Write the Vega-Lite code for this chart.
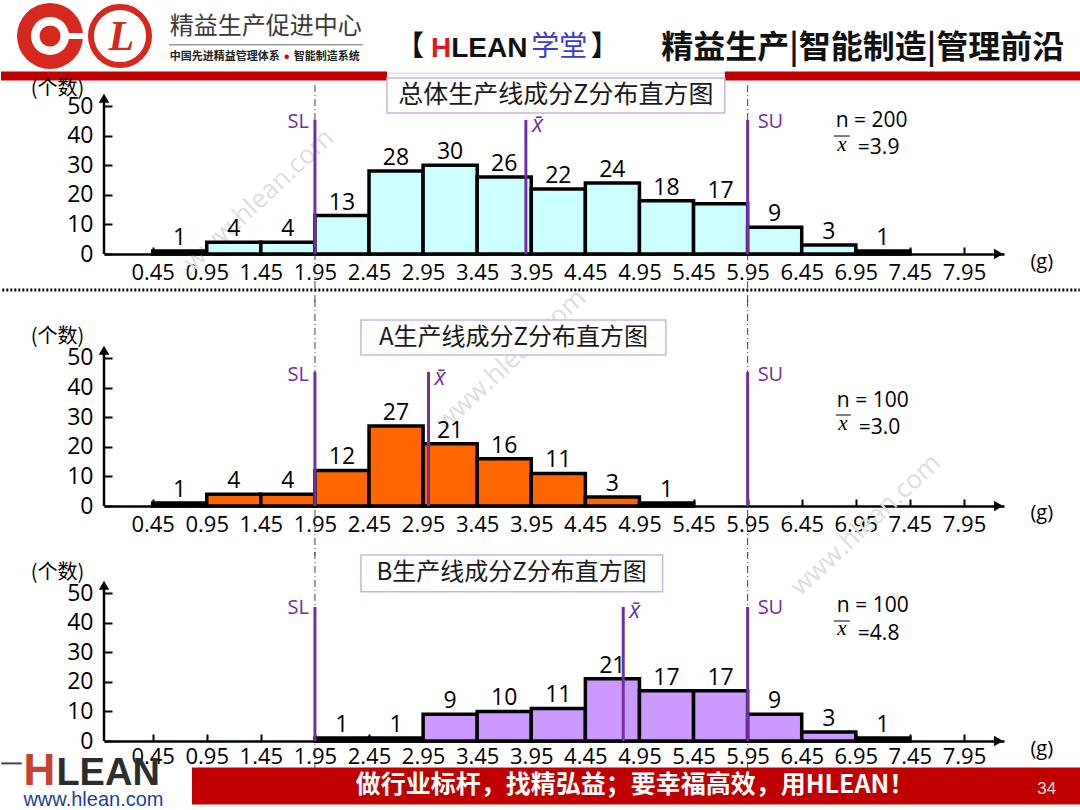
{
"$schema": "https://vega.github.io/schema/vega-lite/v6.json",
"background": "white",
"padding": 0,
"bounds": "flush",
"spacing": 50,
"config": {"view": {"stroke": null}, "font": "Open Sans", "axis": {"grid": false}, "text": {"font": "Open Sans"}},
"datasets": {
 "deco": [{"item": "decoration"}],
 "total": [{"lo":0.45,"hi":0.95,"n":1},{"lo":0.95,"hi":1.45,"n":4},{"lo":1.45,"hi":1.95,"n":4},{"lo":1.95,"hi":2.45,"n":13},{"lo":2.45,"hi":2.95,"n":28},{"lo":2.95,"hi":3.45,"n":30},{"lo":3.45,"hi":3.95,"n":26},{"lo":3.95,"hi":4.45,"n":22},{"lo":4.45,"hi":4.95,"n":24},{"lo":4.95,"hi":5.45,"n":18},{"lo":5.45,"hi":5.95,"n":17},{"lo":5.95,"hi":6.45,"n":9},{"lo":6.45,"hi":6.95,"n":3},{"lo":6.95,"hi":7.45,"n":1}],
 "lineA": [{"lo":0.45,"hi":0.95,"n":1},{"lo":0.95,"hi":1.45,"n":4},{"lo":1.45,"hi":1.95,"n":4},{"lo":1.95,"hi":2.45,"n":12},{"lo":2.45,"hi":2.95,"n":27},{"lo":2.95,"hi":3.45,"n":21},{"lo":3.45,"hi":3.95,"n":16},{"lo":3.95,"hi":4.45,"n":11},{"lo":4.45,"hi":4.95,"n":3},{"lo":4.95,"hi":5.45,"n":1}],
 "lineB": [{"lo":1.95,"hi":2.45,"n":1},{"lo":2.45,"hi":2.95,"n":1},{"lo":2.95,"hi":3.45,"n":9},{"lo":3.45,"hi":3.95,"n":10},{"lo":3.95,"hi":4.45,"n":11},{"lo":4.45,"hi":4.95,"n":21},{"lo":4.95,"hi":5.45,"n":17},{"lo":5.45,"hi":5.95,"n":17},{"lo":5.95,"hi":6.45,"n":9},{"lo":6.45,"hi":6.95,"n":3},{"lo":6.95,"hi":7.45,"n":1}],
 "limitsTotal": [{"label":"SL","g":1.95},{"label":"SU","g":5.95},{"label":"x̄","g":3.9}],
 "limitsA": [{"label":"SL","g":1.95},{"label":"SU","g":5.95},{"label":"x̄","g":3.0}],
 "limitsB": [{"label":"SL","g":1.95},{"label":"SU","g":5.95},{"label":"x̄","g":4.8}]
},
"vconcat": [
{
 "width": 900, "height": 182,
 "resolve": {"axis": {"x": "independent", "y": "independent"}},
 "layer": [
  {"data":{"name":"deco"},"mark":{"type":"rect","fill":"white"},"encoding":{"x":{"datum":-0.952,"type":"quantitative","scale":{"domain":[0,8.32],"nice":false,"zero":false},"axis":null},"x2":{"datum":9.03},"y":{"datum":85.81,"type":"quantitative","scale":{"domain":[0,61.49],"nice":false,"zero":false},"axis":null},"y2":{"datum":85.5}}},
  {"data":{"name":"deco"},"mark":{"type":"rect","fill":"#c00000"},"encoding":{"x":{"datum":-0.952,"type":"quantitative","scale":{"domain":[0,8.32],"nice":false,"zero":false},"axis":null},"x2":{"datum":2.616},"y":{"datum":61.66,"type":"quantitative","scale":{"domain":[0,61.49],"nice":false,"zero":false},"axis":null},"y2":{"datum":58.61}}},
  {"data":{"name":"deco"},"mark":{"type":"rect","fill":"#ecd5ec"},"encoding":{"x":{"datum":2.616,"type":"quantitative","scale":{"domain":[0,8.32],"nice":false,"zero":false},"axis":null},"x2":{"datum":5.739},"y":{"datum":61.32,"type":"quantitative","scale":{"domain":[0,61.49],"nice":false,"zero":false},"axis":null},"y2":{"datum":60.81}}},
  {"data":{"name":"deco"},"mark":{"type":"rect","fill":"#c00000"},"encoding":{"x":{"datum":5.739,"type":"quantitative","scale":{"domain":[0,8.32],"nice":false,"zero":false},"axis":null},"x2":{"datum":9.03},"y":{"datum":61.66,"type":"quantitative","scale":{"domain":[0,61.49],"nice":false,"zero":false},"axis":null},"y2":{"datum":58.61}}},
  {"data":{"name":"deco"},"mark":{"type":"point","shape":"circle","filled":true,"color":"#d7281e","opacity":1,"size":4356},"encoding":{"x":{"datum":-0.499,"type":"quantitative","scale":{"domain":[0,8.32],"nice":false,"zero":false},"axis":null},"y":{"datum":73.65,"type":"quantitative","scale":{"domain":[0,61.49],"nice":false,"zero":false},"axis":null}}},
  {"data":{"name":"deco"},"mark":{"type":"point","shape":"circle","filled":true,"color":"white","opacity":1,"size":1444},"encoding":{"x":{"datum":-0.499,"type":"quantitative","scale":{"domain":[0,8.32],"nice":false,"zero":false},"axis":null},"y":{"datum":73.65,"type":"quantitative","scale":{"domain":[0,61.49],"nice":false,"zero":false},"axis":null}}},
  {"data":{"name":"deco"},"mark":{"type":"point","shape":"circle","filled":true,"color":"#d7281e","opacity":1,"size":440},"encoding":{"x":{"datum":-0.499,"type":"quantitative","scale":{"domain":[0,8.32],"nice":false,"zero":false},"axis":null},"y":{"datum":73.65,"type":"quantitative","scale":{"domain":[0,61.49],"nice":false,"zero":false},"axis":null}}},
  {"data":{"name":"deco"},"mark":{"type":"rect","fill":"white"},"encoding":{"x":{"datum":-0.397,"type":"quantitative","scale":{"domain":[0,8.32],"nice":false,"zero":false},"axis":null},"x2":{"datum":-0.17},"y":{"datum":74.66,"type":"quantitative","scale":{"domain":[0,61.49],"nice":false,"zero":false},"axis":null},"y2":{"datum":72.64}}},
  {"data":{"name":"deco"},"mark":{"type":"point","shape":"circle","filled":false,"stroke":"#d7281e","strokeWidth":6,"strokeJoin":"round","opacity":1,"size":3364},"encoding":{"x":{"datum":0.148,"type":"quantitative","scale":{"domain":[0,8.32],"nice":false,"zero":false},"axis":null},"y":{"datum":73.65,"type":"quantitative","scale":{"domain":[0,61.49],"nice":false,"zero":false},"axis":null}}},
  {"data":{"name":"deco"},"mark":{"type":"text","text":"L","font":"Liberation Serif","fontStyle":"italic","fontWeight":"bold","fontSize":42,"color":"#d7281e","align":"center","baseline":"middle"},"encoding":{"x":{"datum":0.16,"type":"quantitative","scale":{"domain":[0,8.32],"nice":false,"zero":false},"axis":null},"y":{"datum":73.3,"type":"quantitative","scale":{"domain":[0,61.49],"nice":false,"zero":false},"axis":null}}},
  {"data":{"name":"deco"},"mark":{"type":"text","text":"精益生产促进中心","font":"Noto Sans CJK SC","fontSize":24,"color":"#3a3a3a","align":"left","baseline":"middle"},"encoding":{"x":{"datum":0.607,"type":"quantitative","scale":{"domain":[0,8.32],"nice":false,"zero":false},"axis":null},"y":{"datum":76.79,"type":"quantitative","scale":{"domain":[0,61.49],"nice":false,"zero":false},"axis":null}}},
  {"data":{"name":"deco"},"mark":{"type":"rule","color":"#9a9a9a","strokeWidth":1.5},"encoding":{"x":{"datum":0.601,"type":"quantitative","scale":{"domain":[0,8.32],"nice":false,"zero":false},"axis":null},"x2":{"datum":2.394},"y":{"datum":70.68,"type":"quantitative","scale":{"domain":[0,61.49],"nice":false,"zero":false},"axis":null}}},
  {"data":{"name":"deco"},"mark":{"type":"text","text":"中国先进精益管理体系","font":"Noto Sans CJK SC","fontSize":11,"fontWeight":"bold","color":"#222","align":"left","baseline":"middle"},"encoding":{"x":{"datum":0.607,"type":"quantitative","scale":{"domain":[0,8.32],"nice":false,"zero":false},"axis":null},"y":{"datum":66.62,"type":"quantitative","scale":{"domain":[0,61.49],"nice":false,"zero":false},"axis":null}}},
  {"data":{"name":"deco"},"mark":{"type":"point","shape":"circle","filled":true,"color":"#e00000","opacity":1,"size":20},"encoding":{"x":{"datum":1.689,"type":"quantitative","scale":{"domain":[0,8.32],"nice":false,"zero":false},"axis":null},"y":{"datum":66.62,"type":"quantitative","scale":{"domain":[0,61.49],"nice":false,"zero":false},"axis":null}}},
  {"data":{"name":"deco"},"mark":{"type":"text","text":"智能制造系统","font":"Noto Sans CJK SC","fontSize":11,"fontWeight":"bold","color":"#222","align":"left","baseline":"middle"},"encoding":{"x":{"datum":1.753,"type":"quantitative","scale":{"domain":[0,8.32],"nice":false,"zero":false},"axis":null},"y":{"datum":66.62,"type":"quantitative","scale":{"domain":[0,61.49],"nice":false,"zero":false},"axis":null}}},
  {"data":{"name":"deco"},"mark":{"type":"text","text":"【","font":"Noto Sans CJK SC","fontSize":28,"fontWeight":"bold","color":"#111","align":"left","baseline":"middle"},"encoding":{"x":{"datum":2.699,"type":"quantitative","scale":{"domain":[0,8.32],"nice":false,"zero":false},"axis":null},"y":{"datum":69.59,"type":"quantitative","scale":{"domain":[0,61.49],"nice":false,"zero":false},"axis":null}}},
  {"data":{"name":"deco"},"mark":{"type":"text","text":"H","font":"Liberation Sans","fontSize":28,"fontWeight":"bold","color":"#e8161b","align":"left","baseline":"alphabetic"},"encoding":{"x":{"datum":3.022,"type":"quantitative","scale":{"domain":[0,8.32],"nice":false,"zero":false},"axis":null},"y":{"datum":66.62,"type":"quantitative","scale":{"domain":[0,61.49],"nice":false,"zero":false},"axis":null}}},
  {"data":{"name":"deco"},"mark":{"type":"text","text":"LEAN","font":"Liberation Sans","fontSize":28,"fontWeight":"bold","color":"#111","align":"left","baseline":"alphabetic"},"encoding":{"x":{"datum":3.21,"type":"quantitative","scale":{"domain":[0,8.32],"nice":false,"zero":false},"axis":null},"y":{"datum":66.62,"type":"quantitative","scale":{"domain":[0,61.49],"nice":false,"zero":false},"axis":null}}},
  {"data":{"name":"deco"},"mark":{"type":"text","text":"学堂","font":"Noto Sans CJK SC","fontSize":28,"color":"#3b3bd4","align":"left","baseline":"middle"},"encoding":{"x":{"datum":3.95,"type":"quantitative","scale":{"domain":[0,8.32],"nice":false,"zero":false},"axis":null},"y":{"datum":69.59,"type":"quantitative","scale":{"domain":[0,61.49],"nice":false,"zero":false},"axis":null}}},
  {"data":{"name":"deco"},"mark":{"type":"text","text":"】","font":"Noto Sans CJK SC","fontSize":28,"fontWeight":"bold","color":"#111","align":"left","baseline":"middle"},"encoding":{"x":{"datum":4.5,"type":"quantitative","scale":{"domain":[0,8.32],"nice":false,"zero":false},"axis":null},"y":{"datum":69.59,"type":"quantitative","scale":{"domain":[0,61.49],"nice":false,"zero":false},"axis":null}}},
  {"data":{"name":"deco"},"mark":{"type":"text","text":"精益生产|智能制造|管理前沿","font":"Noto Sans CJK SC","fontSize":32,"fontWeight":"bold","color":"#111","align":"center","baseline":"middle"},"encoding":{"x":{"datum":7.015,"type":"quantitative","scale":{"domain":[0,8.32],"nice":false,"zero":false},"axis":null},"y":{"datum":69.59,"type":"quantitative","scale":{"domain":[0,61.49],"nice":false,"zero":false},"axis":null}}},
  {"data":{"name":"deco"},"mark":{"type":"rule","color":"#000","strokeWidth":3,"strokeDash":[2,2]},"encoding":{"x":{"datum":-0.94,"type":"quantitative","scale":{"domain":[0,8.32],"nice":false,"zero":false},"axis":null},"x2":{"datum":9.02},"y":{"datum":-12.16,"type":"quantitative","scale":{"domain":[0,61.49],"nice":false,"zero":false},"axis":null}}},
  {"data":{"name":"deco"},"mark":{"type":"text","text":"www.hlean.com","fontSize":26,"color":"#dedede","angle":317,"align":"center","baseline":"middle"},"encoding":{"x":{"datum":1.432,"type":"quantitative","scale":{"domain":[0,8.32],"nice":false,"zero":false},"axis":null},"y":{"datum":18.24,"type":"quantitative","scale":{"domain":[0,61.49],"nice":false,"zero":false},"axis":null}}},
  {"data":{"name":"limitsTotal"},"transform":[{"filter":{"field":"label","oneOf":["SL","SU"]}}],"mark":{"type":"rule","color":"#444","strokeWidth":1,"strokeDash":[7,3,1,3]},"encoding":{"x":{"field":"g","type":"quantitative","scale":{"domain":[0,8.32],"nice":false,"zero":false},"axis":null},"y":{"datum":57.09,"type":"quantitative","scale":{"domain":[0,61.49],"nice":false,"zero":false},"axis":null},"y2":{"datum":-17.23}}},
  {"data":{"name":"deco"},"mark":{"type":"rect","fill":"white","stroke":"#c9b4de","strokeWidth":1.5},"encoding":{"x":{"datum":2.616,"type":"quantitative","scale":{"domain":[0,8.32],"nice":false,"zero":false},"axis":null},"x2":{"datum":5.739},"y":{"datum":59.46,"type":"quantitative","scale":{"domain":[0,61.49],"nice":false,"zero":false},"axis":null},"y2":{"datum":47.64}}},
  {"data":{"name":"deco"},"mark":{"type":"text","text":"总体生产线成分Z分布直方图","font":"Noto Sans CJK SC","fontSize":25,"color":"#1a1a1a","align":"center","baseline":"middle"},"encoding":{"x":{"datum":4.177,"type":"quantitative","scale":{"domain":[0,8.32],"nice":false,"zero":false},"axis":null},"y":{"datum":53.72,"type":"quantitative","scale":{"domain":[0,61.49],"nice":false,"zero":false},"axis":null}}},
  {"data":{"name":"total"},"mark":{"type":"rect","fill":"#ccffff","stroke":"#000","strokeWidth":3.5},"encoding":{
    "x":{"field":"lo","type":"quantitative","scale":{"domain":[0,8.32],"nice":false,"zero":false},"axis":{"values":[0.45,0.95,1.45,1.95,2.45,2.95,3.45,3.95,4.45,4.95,5.45,5.95,6.45,6.95,7.45,7.95],"format":".2f","title":null,"grid":false,"domainColor":"#000","domainWidth":2.5,"tickColor":"#000","tickWidth":2,"tickSize":-7,"labelFontSize":22,"labelColor":"#000","labelPadding":15,"labelFlush":false,"labelOverlap":false,"labelBound":false}},
    "x2":{"field":"hi"},
    "y":{"field":"n","type":"quantitative","scale":{"domain":[0,61.49],"nice":false,"zero":false},"axis":{"values":[0,10,20,30,40,50],"title":null,"grid":false,"domain":false,"tickColor":"#000","tickWidth":2,"tickSize":-8,"labelFontSize":23,"labelColor":"#000","labelPadding":19}},
    "y2":{"datum":0}}},
  {"data":{"name":"total"},"mark":{"type":"text","fontSize":23,"color":"#000","align":"center","baseline":"bottom","dx":27,"dy":-1},"encoding":{"x":{"field":"lo","type":"quantitative","scale":{"domain":[0,8.32],"nice":false,"zero":false},"axis":null},"y":{"field":"n","type":"quantitative","scale":{"domain":[0,61.49],"nice":false,"zero":false},"axis":null},"text":{"field":"n","type":"quantitative"}}},
  {"data":{"name":"limitsTotal"},"mark":{"type":"rule","color":"#7030a0","strokeWidth":3},"encoding":{"x":{"field":"g","type":"quantitative","scale":{"domain":[0,8.32],"nice":false,"zero":false},"axis":null},"y":{"datum":0,"type":"quantitative","scale":{"domain":[0,61.49],"nice":false,"zero":false},"axis":null},"y2":{"datum":45.3}}},
  {"data":{"name":"limitsTotal"},"transform":[{"filter":{"field":"label","equal":"SL"}}],"mark":{"type":"text","fontSize":20,"color":"#7030a0","align":"right","baseline":"middle","dx":-6},"encoding":{"x":{"field":"g","type":"quantitative","scale":{"domain":[0,8.32],"nice":false,"zero":false},"axis":null},"y":{"datum":44.7,"type":"quantitative","scale":{"domain":[0,61.49],"nice":false,"zero":false},"axis":null},"text":{"field":"label"}}},
  {"data":{"name":"limitsTotal"},"transform":[{"filter":{"field":"label","equal":"SU"}}],"mark":{"type":"text","fontSize":20,"color":"#7030a0","align":"left","baseline":"middle","dx":10},"encoding":{"x":{"field":"g","type":"quantitative","scale":{"domain":[0,8.32],"nice":false,"zero":false},"axis":null},"y":{"datum":44.7,"type":"quantitative","scale":{"domain":[0,61.49],"nice":false,"zero":false},"axis":null},"text":{"field":"label"}}},
  {"data":{"name":"limitsTotal"},"transform":[{"filter":{"field":"label","equal":"x̄"}}],"mark":{"type":"text","fontSize":23,"fontStyle":"italic","color":"#7030a0","align":"left","baseline":"middle","dx":6},"encoding":{"x":{"field":"g","type":"quantitative","scale":{"domain":[0,8.32],"nice":false,"zero":false},"axis":null},"y":{"datum":43.7,"type":"quantitative","scale":{"domain":[0,61.49],"nice":false,"zero":false},"axis":null},"text":{"field":"label"}}},
  {"data":{"name":"deco"},"mark":{"type":"text","text":"n = 200","fontSize":21,"color":"#000","align":"left","baseline":"middle"},"encoding":{"x":{"datum":6.765,"type":"quantitative","scale":{"domain":[0,8.32],"nice":false,"zero":false},"axis":null},"y":{"datum":44.93,"type":"quantitative","scale":{"domain":[0,61.49],"nice":false,"zero":false},"axis":null}}},
  {"data":{"name":"deco"},"mark":{"type":"rule","color":"#000","strokeWidth":1},"encoding":{"x":{"datum":6.747,"type":"quantitative","scale":{"domain":[0,8.32],"nice":false,"zero":false},"axis":null},"x2":{"datum":6.895},"y":{"datum":39.86,"type":"quantitative","scale":{"domain":[0,61.49],"nice":false,"zero":false},"axis":null}}},
  {"data":{"name":"deco"},"mark":{"type":"text","text":"x","font":"Liberation Serif","fontStyle":"italic","fontSize":21,"color":"#000","align":"center","baseline":"middle"},"encoding":{"x":{"datum":6.821,"type":"quantitative","scale":{"domain":[0,8.32],"nice":false,"zero":false},"axis":null},"y":{"datum":36.9,"type":"quantitative","scale":{"domain":[0,61.49],"nice":false,"zero":false},"axis":null}}},
  {"data":{"name":"deco"},"mark":{"type":"text","text":"=3.9","fontSize":21,"color":"#000","align":"left","baseline":"middle"},"encoding":{"x":{"datum":6.969,"type":"quantitative","scale":{"domain":[0,8.32],"nice":false,"zero":false},"axis":null},"y":{"datum":35.81,"type":"quantitative","scale":{"domain":[0,61.49],"nice":false,"zero":false},"axis":null}}},
  {"data":{"name":"deco"},"mark":{"type":"rule","color":"#000","strokeWidth":2.5},"encoding":{"x":{"datum":0,"type":"quantitative","scale":{"domain":[0,8.32],"nice":false,"zero":false},"axis":null},"y":{"datum":0,"type":"quantitative","scale":{"domain":[0,61.49],"nice":false,"zero":false},"axis":null},"y2":{"datum":52.5}}},
  {"data":{"name":"deco"},"mark":{"type":"point","shape":"triangle-up","filled":true,"color":"#000","opacity":1,"size":110},"encoding":{"x":{"datum":0,"type":"quantitative","scale":{"domain":[0,8.32],"nice":false,"zero":false},"axis":null},"y":{"datum":52.6,"type":"quantitative","scale":{"domain":[0,61.49],"nice":false,"zero":false},"axis":null}}},
  {"data":{"name":"deco"},"mark":{"type":"point","shape":"triangle-right","filled":true,"color":"#000","opacity":1,"size":110},"encoding":{"x":{"datum":8.27,"type":"quantitative","scale":{"domain":[0,8.32],"nice":false,"zero":false},"axis":null},"y":{"datum":0,"type":"quantitative","scale":{"domain":[0,61.49],"nice":false,"zero":false},"axis":null}}},
  {"data":{"name":"deco"},"mark":{"type":"text","text":"(个数)","font":"Noto Sans CJK SC","fontSize":20,"color":"#000","align":"center","baseline":"middle"},"encoding":{"x":{"datum":-0.43,"type":"quantitative","scale":{"domain":[0,8.32],"nice":false,"zero":false},"axis":null},"y":{"datum":55.91,"type":"quantitative","scale":{"domain":[0,61.49],"nice":false,"zero":false},"axis":null}}},
  {"data":{"name":"deco"},"mark":{"type":"text","text":"(g)","fontSize":20,"color":"#000","align":"center","baseline":"middle"},"encoding":{"x":{"datum":8.669,"type":"quantitative","scale":{"domain":[0,8.32],"nice":false,"zero":false},"axis":null},"y":{"datum":-2.7,"type":"quantitative","scale":{"domain":[0,61.49],"nice":false,"zero":false},"axis":null}}}
 ]
},
{
 "width": 900, "height": 202,
 "resolve": {"axis": {"x": "independent", "y": "independent"}},
 "layer": [
  {"data":{"name":"deco"},"mark":{"type":"text","text":"www.hlean.com","fontSize":26,"color":"#dedede","angle":317,"align":"center","baseline":"middle"},"encoding":{"x":{"datum":3.762,"type":"quantitative","scale":{"domain":[0,8.32],"nice":false,"zero":false},"axis":null},"y":{"datum":49.3,"type":"quantitative","scale":{"domain":[0,68.24],"nice":false,"zero":false},"axis":null}}},
  {"data":{"name":"deco"},"mark":{"type":"text","text":"www.hlean.com","fontSize":26,"color":"#dedede","angle":317,"align":"center","baseline":"middle"},"encoding":{"x":{"datum":7.043,"type":"quantitative","scale":{"domain":[0,8.32],"nice":false,"zero":false},"axis":null},"y":{"datum":-6.4,"type":"quantitative","scale":{"domain":[0,68.24],"nice":false,"zero":false},"axis":null}}},
  {"data":{"name":"limitsA"},"transform":[{"filter":{"field":"label","oneOf":["SL","SU"]}}],"mark":{"type":"rule","color":"#444","strokeWidth":1,"strokeDash":[7,3,1,3]},"encoding":{"x":{"field":"g","type":"quantitative","scale":{"domain":[0,8.32],"nice":false,"zero":false},"axis":null},"y":{"datum":69.59,"type":"quantitative","scale":{"domain":[0,68.24],"nice":false,"zero":false},"axis":null},"y2":{"datum":-16.89}}},
  {"data":{"name":"deco"},"mark":{"type":"rect","fill":"white","stroke":"#c9b4de","strokeWidth":1.5},"encoding":{"x":{"datum":2.375,"type":"quantitative","scale":{"domain":[0,8.32],"nice":false,"zero":false},"axis":null},"x2":{"datum":5.194},"y":{"datum":62.84,"type":"quantitative","scale":{"domain":[0,68.24],"nice":false,"zero":false},"axis":null},"y2":{"datum":51.01}}},
  {"data":{"name":"deco"},"mark":{"type":"text","text":"A生产线成分Z分布直方图","font":"Noto Sans CJK SC","fontSize":24,"color":"#1a1a1a","align":"center","baseline":"middle"},"encoding":{"x":{"datum":3.785,"type":"quantitative","scale":{"domain":[0,8.32],"nice":false,"zero":false},"axis":null},"y":{"datum":56.76,"type":"quantitative","scale":{"domain":[0,68.24],"nice":false,"zero":false},"axis":null}}},
  {"data":{"name":"lineA"},"mark":{"type":"rect","fill":"#ff6600","stroke":"#000","strokeWidth":3.5},"encoding":{
    "x":{"field":"lo","type":"quantitative","scale":{"domain":[0,8.32],"nice":false,"zero":false},"axis":{"values":[0.45,0.95,1.45,1.95,2.45,2.95,3.45,3.95,4.45,4.95,5.45,5.95,6.45,6.95,7.45,7.95],"format":".2f","title":null,"grid":false,"domainColor":"#000","domainWidth":2.5,"tickColor":"#000","tickWidth":2,"tickSize":-7,"labelFontSize":22,"labelColor":"#000","labelPadding":15,"labelFlush":false,"labelOverlap":false,"labelBound":false}},
    "x2":{"field":"hi"},
    "y":{"field":"n","type":"quantitative","scale":{"domain":[0,68.24],"nice":false,"zero":false},"axis":{"values":[0,10,20,30,40,50],"title":null,"grid":false,"domain":false,"tickColor":"#000","tickWidth":2,"tickSize":-8,"labelFontSize":23,"labelColor":"#000","labelPadding":19}},
    "y2":{"datum":0}}},
  {"data":{"name":"lineA"},"mark":{"type":"text","fontSize":23,"color":"#000","align":"center","baseline":"bottom","dx":27,"dy":-1},"encoding":{"x":{"field":"lo","type":"quantitative","scale":{"domain":[0,8.32],"nice":false,"zero":false},"axis":null},"y":{"field":"n","type":"quantitative","scale":{"domain":[0,68.24],"nice":false,"zero":false},"axis":null},"text":{"field":"n","type":"quantitative"}}},
  {"data":{"name":"limitsA"},"mark":{"type":"rule","color":"#7030a0","strokeWidth":3},"encoding":{"x":{"field":"g","type":"quantitative","scale":{"domain":[0,8.32],"nice":false,"zero":false},"axis":null},"y":{"datum":0,"type":"quantitative","scale":{"domain":[0,68.24],"nice":false,"zero":false},"axis":null},"y2":{"datum":45.3}}},
  {"data":{"name":"limitsA"},"transform":[{"filter":{"field":"label","equal":"SL"}}],"mark":{"type":"text","fontSize":20,"color":"#7030a0","align":"right","baseline":"middle","dx":-6},"encoding":{"x":{"field":"g","type":"quantitative","scale":{"domain":[0,8.32],"nice":false,"zero":false},"axis":null},"y":{"datum":44.3,"type":"quantitative","scale":{"domain":[0,68.24],"nice":false,"zero":false},"axis":null},"text":{"field":"label"}}},
  {"data":{"name":"limitsA"},"transform":[{"filter":{"field":"label","equal":"SU"}}],"mark":{"type":"text","fontSize":20,"color":"#7030a0","align":"left","baseline":"middle","dx":10},"encoding":{"x":{"field":"g","type":"quantitative","scale":{"domain":[0,8.32],"nice":false,"zero":false},"axis":null},"y":{"datum":44.3,"type":"quantitative","scale":{"domain":[0,68.24],"nice":false,"zero":false},"axis":null},"text":{"field":"label"}}},
  {"data":{"name":"limitsA"},"transform":[{"filter":{"field":"label","equal":"x̄"}}],"mark":{"type":"text","fontSize":23,"fontStyle":"italic","color":"#7030a0","align":"left","baseline":"middle","dx":6},"encoding":{"x":{"field":"g","type":"quantitative","scale":{"domain":[0,8.32],"nice":false,"zero":false},"axis":null},"y":{"datum":43.3,"type":"quantitative","scale":{"domain":[0,68.24],"nice":false,"zero":false},"axis":null},"text":{"field":"label"}}},
  {"data":{"name":"deco"},"mark":{"type":"text","text":"n = 100","fontSize":21,"color":"#000","align":"left","baseline":"middle"},"encoding":{"x":{"datum":6.775,"type":"quantitative","scale":{"domain":[0,8.32],"nice":false,"zero":false},"axis":null},"y":{"datum":35.6,"type":"quantitative","scale":{"domain":[0,68.24],"nice":false,"zero":false},"axis":null}}},
  {"data":{"name":"deco"},"mark":{"type":"rule","color":"#000","strokeWidth":1},"encoding":{"x":{"datum":6.765,"type":"quantitative","scale":{"domain":[0,8.32],"nice":false,"zero":false},"axis":null},"x2":{"datum":6.904},"y":{"datum":30.74,"type":"quantitative","scale":{"domain":[0,68.24],"nice":false,"zero":false},"axis":null}}},
  {"data":{"name":"deco"},"mark":{"type":"text","text":"x","font":"Liberation Serif","fontStyle":"italic","fontSize":21,"color":"#000","align":"center","baseline":"middle"},"encoding":{"x":{"datum":6.83,"type":"quantitative","scale":{"domain":[0,8.32],"nice":false,"zero":false},"axis":null},"y":{"datum":27.7,"type":"quantitative","scale":{"domain":[0,68.24],"nice":false,"zero":false},"axis":null}}},
  {"data":{"name":"deco"},"mark":{"type":"text","text":"=3.0","fontSize":21,"color":"#000","align":"left","baseline":"middle"},"encoding":{"x":{"datum":6.978,"type":"quantitative","scale":{"domain":[0,8.32],"nice":false,"zero":false},"axis":null},"y":{"datum":26.25,"type":"quantitative","scale":{"domain":[0,68.24],"nice":false,"zero":false},"axis":null}}},
  {"data":{"name":"deco"},"mark":{"type":"rule","color":"#000","strokeWidth":2.5},"encoding":{"x":{"datum":0,"type":"quantitative","scale":{"domain":[0,8.32],"nice":false,"zero":false},"axis":null},"y":{"datum":0,"type":"quantitative","scale":{"domain":[0,68.24],"nice":false,"zero":false},"axis":null},"y2":{"datum":52.5}}},
  {"data":{"name":"deco"},"mark":{"type":"point","shape":"triangle-up","filled":true,"color":"#000","opacity":1,"size":110},"encoding":{"x":{"datum":0,"type":"quantitative","scale":{"domain":[0,8.32],"nice":false,"zero":false},"axis":null},"y":{"datum":52.6,"type":"quantitative","scale":{"domain":[0,68.24],"nice":false,"zero":false},"axis":null}}},
  {"data":{"name":"deco"},"mark":{"type":"point","shape":"triangle-right","filled":true,"color":"#000","opacity":1,"size":110},"encoding":{"x":{"datum":8.27,"type":"quantitative","scale":{"domain":[0,8.32],"nice":false,"zero":false},"axis":null},"y":{"datum":0,"type":"quantitative","scale":{"domain":[0,68.24],"nice":false,"zero":false},"axis":null}}},
  {"data":{"name":"deco"},"mark":{"type":"text","text":"(个数)","font":"Noto Sans CJK SC","fontSize":20,"color":"#000","align":"center","baseline":"middle"},"encoding":{"x":{"datum":-0.43,"type":"quantitative","scale":{"domain":[0,8.32],"nice":false,"zero":false},"axis":null},"y":{"datum":57.09,"type":"quantitative","scale":{"domain":[0,68.24],"nice":false,"zero":false},"axis":null}}},
  {"data":{"name":"deco"},"mark":{"type":"text","text":"(g)","fontSize":20,"color":"#000","align":"center","baseline":"middle"},"encoding":{"x":{"datum":8.669,"type":"quantitative","scale":{"domain":[0,8.32],"nice":false,"zero":false},"axis":null},"y":{"datum":-2.36,"type":"quantitative","scale":{"domain":[0,68.24],"nice":false,"zero":false},"axis":null}}}
 ]
},
{
 "width": 900, "height": 185,
 "resolve": {"axis": {"x": "independent", "y": "independent"}},
 "layer": [
  {"data":{"name":"limitsB"},"transform":[{"filter":{"field":"label","oneOf":["SL","SU"]}}],"mark":{"type":"rule","color":"#444","strokeWidth":1,"strokeDash":[7,3,1,3]},"encoding":{"x":{"field":"g","type":"quantitative","scale":{"domain":[0,8.32],"nice":false,"zero":false},"axis":null},"y":{"datum":63.85,"type":"quantitative","scale":{"domain":[0,62.5],"nice":false,"zero":false},"axis":null},"y2":{"datum":-9.12}}},
  {"data":{"name":"deco"},"mark":{"type":"rect","fill":"white","stroke":"#c9b4de","strokeWidth":1.5},"encoding":{"x":{"datum":2.375,"type":"quantitative","scale":{"domain":[0,8.32],"nice":false,"zero":false},"axis":null},"x2":{"datum":5.164},"y":{"datum":62.84,"type":"quantitative","scale":{"domain":[0,62.5],"nice":false,"zero":false},"axis":null},"y2":{"datum":50.44}}},
  {"data":{"name":"deco"},"mark":{"type":"text","text":"B生产线成分Z分布直方图","font":"Noto Sans CJK SC","fontSize":24,"color":"#1a1a1a","align":"center","baseline":"middle"},"encoding":{"x":{"datum":3.769,"type":"quantitative","scale":{"domain":[0,8.32],"nice":false,"zero":false},"axis":null},"y":{"datum":56.76,"type":"quantitative","scale":{"domain":[0,62.5],"nice":false,"zero":false},"axis":null}}},
  {"data":{"name":"lineB"},"mark":{"type":"rect","fill":"#cc99ff","stroke":"#000","strokeWidth":3.5},"encoding":{
    "x":{"field":"lo","type":"quantitative","scale":{"domain":[0,8.32],"nice":false,"zero":false},"axis":{"values":[0.45,0.95,1.45,1.95,2.45,2.95,3.45,3.95,4.45,4.95,5.45,5.95,6.45,6.95,7.45,7.95],"format":".2f","title":null,"grid":false,"domainColor":"#000","domainWidth":2.5,"tickColor":"#000","tickWidth":2,"tickSize":-7,"labelFontSize":22,"labelColor":"#000","labelPadding":12,"labelFlush":false,"labelOverlap":false,"labelBound":false}},
    "x2":{"field":"hi"},
    "y":{"field":"n","type":"quantitative","scale":{"domain":[0,62.5],"nice":false,"zero":false},"axis":{"values":[0,10,20,30,40,50],"title":null,"grid":false,"domain":false,"tickColor":"#000","tickWidth":2,"tickSize":-8,"labelFontSize":23,"labelColor":"#000","labelPadding":19}},
    "y2":{"datum":0}}},
  {"data":{"name":"lineB"},"mark":{"type":"text","fontSize":23,"color":"#000","align":"center","baseline":"bottom","dx":27,"dy":-1},"encoding":{"x":{"field":"lo","type":"quantitative","scale":{"domain":[0,8.32],"nice":false,"zero":false},"axis":null},"y":{"field":"n","type":"quantitative","scale":{"domain":[0,62.5],"nice":false,"zero":false},"axis":null},"text":{"field":"n","type":"quantitative"}}},
  {"data":{"name":"limitsB"},"mark":{"type":"rule","color":"#7030a0","strokeWidth":3},"encoding":{"x":{"field":"g","type":"quantitative","scale":{"domain":[0,8.32],"nice":false,"zero":false},"axis":null},"y":{"datum":0,"type":"quantitative","scale":{"domain":[0,62.5],"nice":false,"zero":false},"axis":null},"y2":{"datum":45.3}}},
  {"data":{"name":"limitsB"},"transform":[{"filter":{"field":"label","equal":"SL"}}],"mark":{"type":"text","fontSize":20,"color":"#7030a0","align":"right","baseline":"middle","dx":-6},"encoding":{"x":{"field":"g","type":"quantitative","scale":{"domain":[0,8.32],"nice":false,"zero":false},"axis":null},"y":{"datum":44.9,"type":"quantitative","scale":{"domain":[0,62.5],"nice":false,"zero":false},"axis":null},"text":{"field":"label"}}},
  {"data":{"name":"limitsB"},"transform":[{"filter":{"field":"label","equal":"SU"}}],"mark":{"type":"text","fontSize":20,"color":"#7030a0","align":"left","baseline":"middle","dx":10},"encoding":{"x":{"field":"g","type":"quantitative","scale":{"domain":[0,8.32],"nice":false,"zero":false},"axis":null},"y":{"datum":44.9,"type":"quantitative","scale":{"domain":[0,62.5],"nice":false,"zero":false},"axis":null},"text":{"field":"label"}}},
  {"data":{"name":"limitsB"},"transform":[{"filter":{"field":"label","equal":"x̄"}}],"mark":{"type":"text","fontSize":23,"fontStyle":"italic","color":"#7030a0","align":"left","baseline":"middle","dx":6},"encoding":{"x":{"field":"g","type":"quantitative","scale":{"domain":[0,8.32],"nice":false,"zero":false},"axis":null},"y":{"datum":43.9,"type":"quantitative","scale":{"domain":[0,62.5],"nice":false,"zero":false},"axis":null},"text":{"field":"label"}}},
  {"data":{"name":"deco"},"mark":{"type":"text","text":"n = 100","fontSize":21,"color":"#000","align":"left","baseline":"middle"},"encoding":{"x":{"datum":6.775,"type":"quantitative","scale":{"domain":[0,8.32],"nice":false,"zero":false},"axis":null},"y":{"datum":45.5,"type":"quantitative","scale":{"domain":[0,62.5],"nice":false,"zero":false},"axis":null}}},
  {"data":{"name":"deco"},"mark":{"type":"rule","color":"#000","strokeWidth":1},"encoding":{"x":{"datum":6.747,"type":"quantitative","scale":{"domain":[0,8.32],"nice":false,"zero":false},"axis":null},"x2":{"datum":6.895},"y":{"datum":40.54,"type":"quantitative","scale":{"domain":[0,62.5],"nice":false,"zero":false},"axis":null}}},
  {"data":{"name":"deco"},"mark":{"type":"text","text":"x","font":"Liberation Serif","fontStyle":"italic","fontSize":21,"color":"#000","align":"center","baseline":"middle"},"encoding":{"x":{"datum":6.821,"type":"quantitative","scale":{"domain":[0,8.32],"nice":false,"zero":false},"axis":null},"y":{"datum":37.7,"type":"quantitative","scale":{"domain":[0,62.5],"nice":false,"zero":false},"axis":null}}},
  {"data":{"name":"deco"},"mark":{"type":"text","text":"=4.8","fontSize":21,"color":"#000","align":"left","baseline":"middle"},"encoding":{"x":{"datum":6.969,"type":"quantitative","scale":{"domain":[0,8.32],"nice":false,"zero":false},"axis":null},"y":{"datum":36.15,"type":"quantitative","scale":{"domain":[0,62.5],"nice":false,"zero":false},"axis":null}}},
  {"data":{"name":"deco"},"mark":{"type":"rule","color":"#000","strokeWidth":2.5},"encoding":{"x":{"datum":0,"type":"quantitative","scale":{"domain":[0,8.32],"nice":false,"zero":false},"axis":null},"y":{"datum":0,"type":"quantitative","scale":{"domain":[0,62.5],"nice":false,"zero":false},"axis":null},"y2":{"datum":52.5}}},
  {"data":{"name":"deco"},"mark":{"type":"point","shape":"triangle-up","filled":true,"color":"#000","opacity":1,"size":110},"encoding":{"x":{"datum":0,"type":"quantitative","scale":{"domain":[0,8.32],"nice":false,"zero":false},"axis":null},"y":{"datum":52.6,"type":"quantitative","scale":{"domain":[0,62.5],"nice":false,"zero":false},"axis":null}}},
  {"data":{"name":"deco"},"mark":{"type":"point","shape":"triangle-right","filled":true,"color":"#000","opacity":1,"size":110},"encoding":{"x":{"datum":8.27,"type":"quantitative","scale":{"domain":[0,8.32],"nice":false,"zero":false},"axis":null},"y":{"datum":0,"type":"quantitative","scale":{"domain":[0,62.5],"nice":false,"zero":false},"axis":null}}},
  {"data":{"name":"deco"},"mark":{"type":"text","text":"(个数)","font":"Noto Sans CJK SC","fontSize":20,"color":"#000","align":"center","baseline":"middle"},"encoding":{"x":{"datum":-0.43,"type":"quantitative","scale":{"domain":[0,8.32],"nice":false,"zero":false},"axis":null},"y":{"datum":56.66,"type":"quantitative","scale":{"domain":[0,62.5],"nice":false,"zero":false},"axis":null}}},
  {"data":{"name":"deco"},"mark":{"type":"text","text":"(g)","fontSize":20,"color":"#000","align":"center","baseline":"middle"},"encoding":{"x":{"datum":8.669,"type":"quantitative","scale":{"domain":[0,8.32],"nice":false,"zero":false},"axis":null},"y":{"datum":-2.87,"type":"quantitative","scale":{"domain":[0,62.5],"nice":false,"zero":false},"axis":null}}},
  {"data":{"name":"deco"},"mark":{"type":"rect","fill":"#c00000"},"encoding":{"x":{"datum":0.813,"type":"quantitative","scale":{"domain":[0,8.32],"nice":false,"zero":false},"axis":null},"x2":{"datum":9.03},"y":{"datum":-8.95,"type":"quantitative","scale":{"domain":[0,62.5],"nice":false,"zero":false},"axis":null},"y2":{"datum":-21.42}}},
  {"data":{"name":"deco"},"mark":{"type":"text","text":"做行业标杆，找精弘益；要幸福高效，用HLEAN！","font":"Noto Sans CJK SC","fontSize":25,"fontWeight":"bold","color":"white","align":"center","baseline":"middle"},"encoding":{"x":{"datum":4.908,"type":"quantitative","scale":{"domain":[0,8.32],"nice":false,"zero":false},"axis":null},"y":{"datum":-14.86,"type":"quantitative","scale":{"domain":[0,62.5],"nice":false,"zero":false},"axis":null}}},
  {"data":{"name":"deco"},"mark":{"type":"text","text":"34","font":"Liberation Sans","fontSize":17,"color":"#dddddd","align":"center","baseline":"middle"},"encoding":{"x":{"datum":8.715,"type":"quantitative","scale":{"domain":[0,8.32],"nice":false,"zero":false},"axis":null},"y":{"datum":-16.22,"type":"quantitative","scale":{"domain":[0,62.5],"nice":false,"zero":false},"axis":null}}},
  {"data":{"name":"deco"},"mark":{"type":"rule","color":"#444","strokeWidth":2},"encoding":{"x":{"datum":-0.95,"type":"quantitative","scale":{"domain":[0,8.32],"nice":false,"zero":false},"axis":null},"x2":{"datum":-0.761},"y":{"datum":-7.57,"type":"quantitative","scale":{"domain":[0,62.5],"nice":false,"zero":false},"axis":null}}},
  {"data":{"name":"deco"},"mark":{"type":"text","text":"H","font":"Liberation Sans","fontSize":44,"fontWeight":"bold","color":"#c4432b","align":"left","baseline":"alphabetic"},"encoding":{"x":{"datum":-0.745,"type":"quantitative","scale":{"domain":[0,8.32],"nice":false,"zero":false},"axis":null},"y":{"datum":-14.86,"type":"quantitative","scale":{"domain":[0,62.5],"nice":false,"zero":false},"axis":null}}},
  {"data":{"name":"deco"},"mark":{"type":"text","text":"LEAN","font":"Liberation Sans","fontSize":38,"fontWeight":"bold","color":"#2d2d2d","align":"left","baseline":"alphabetic"},"encoding":{"x":{"datum":-0.44,"type":"quantitative","scale":{"domain":[0,8.32],"nice":false,"zero":false},"axis":null},"y":{"datum":-14.86,"type":"quantitative","scale":{"domain":[0,62.5],"nice":false,"zero":false},"axis":null}}},
  {"data":{"name":"deco"},"mark":{"type":"text","text":"www.hlean.com","font":"Liberation Sans","fontSize":20,"color":"#1f3f99","align":"left","baseline":"middle"},"encoding":{"x":{"datum":-0.745,"type":"quantitative","scale":{"domain":[0,8.32],"nice":false,"zero":false},"axis":null},"y":{"datum":-20.1,"type":"quantitative","scale":{"domain":[0,62.5],"nice":false,"zero":false},"axis":null}}},
  {"data":{"name":"deco"},"mark":{"type":"rect","fill":"white"},"encoding":{"x":{"datum":-0.952,"type":"quantitative","scale":{"domain":[0,8.32],"nice":false,"zero":false},"axis":null},"x2":{"datum":9.03},"y":{"datum":-23.0,"type":"quantitative","scale":{"domain":[0,62.5],"nice":false,"zero":false},"axis":null},"y2":{"datum":-23.31}}}
 ]
}
]
}
